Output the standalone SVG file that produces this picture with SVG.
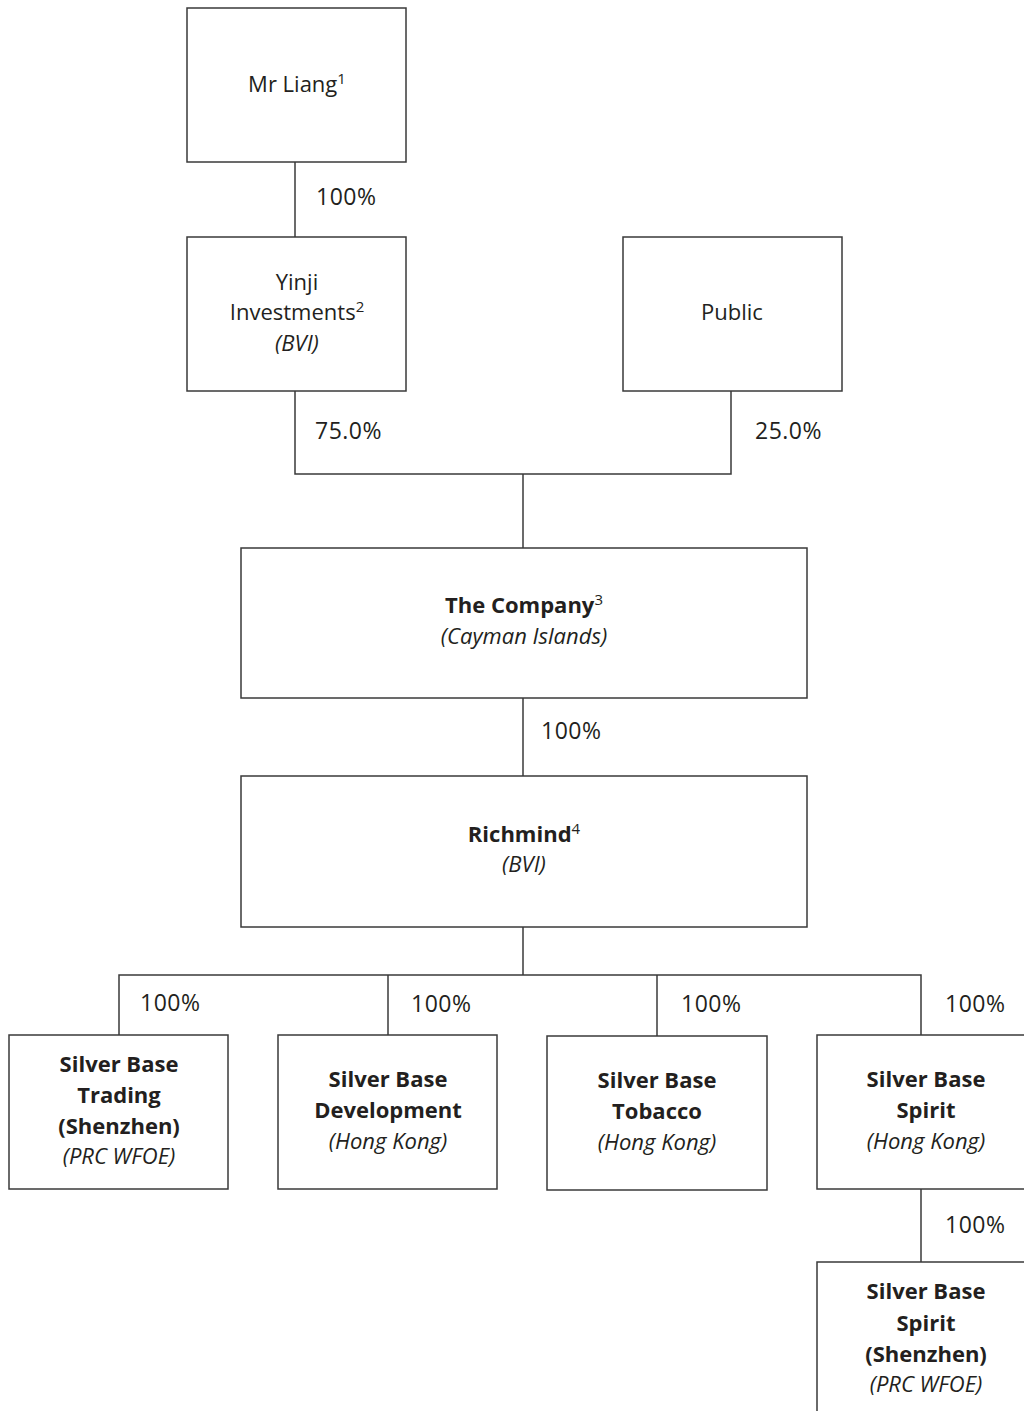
<svg xmlns="http://www.w3.org/2000/svg" width="1024" height="1411" viewBox="0 0 1024 1411">
<style>
.box{fill:#fff;stroke:#3a3a3a;stroke-width:1.5}
.ln{fill:none;stroke:#3a3a3a;stroke-width:1.5}
text{font-family:"Open Sans","Noto Sans","Liberation Sans",sans-serif;font-size:22px;fill:#231f20;text-anchor:middle}
.b{font-weight:bold}
.i{font-style:italic}
.pct{text-anchor:start;font-size:23px;letter-spacing:0.5px}
.sup{font-size:15px}
</style>
<rect width="1024" height="1411" fill="#fff"/>
<g id="connectors">
<path class="ln" d="M295 162V237"/>
<path class="ln" d="M295 391V474H731V391"/>
<path class="ln" d="M523 474V548"/>
<path class="ln" d="M523 698V776"/>
<path class="ln" d="M523 927V975"/>
<path class="ln" d="M119 1035V975H921V1035"/>
<path class="ln" d="M388 975V1035"/>
<path class="ln" d="M657 975V1036"/>
<path class="ln" d="M921 1189V1262"/>
<text class="pct" x="316" y="205">100%</text>
<text class="pct" x="315" y="439">75.0%</text>
<text class="pct" x="755" y="439">25.0%</text>
<text class="pct" x="541" y="739">100%</text>
<text class="pct" x="140" y="1011">100%</text>
<text class="pct" x="411" y="1012">100%</text>
<text class="pct" x="681" y="1012">100%</text>
<text class="pct" x="945" y="1012">100%</text>
<text class="pct" x="945" y="1233">100%</text>
</g>
<g id="mr-liang">
<rect class="box" x="187" y="8" width="219" height="154"/>
<text x="297" y="92">Mr Liang<tspan class="sup" dy="-8">1</tspan></text>
</g>
<g id="yinji">
<rect class="box" x="187" y="237" width="219" height="154"/>
<text x="297" y="290">Yinji</text>
<text x="297" y="320">Investments<tspan class="sup" dy="-8">2</tspan></text>
<text class="i" x="297" y="351">(BVI)</text>
</g>
<g id="public">
<rect class="box" x="623" y="237" width="219" height="154"/>
<text x="732" y="320">Public</text>
</g>
<g id="company">
<rect class="box" x="241" y="548" width="566" height="150"/>
<text class="b" x="524" y="613">The Company<tspan class="sup" font-weight="normal" dy="-8">3</tspan></text>
<text class="i" x="524" y="644">(Cayman Islands)</text>
</g>
<g id="richmind">
<rect class="box" x="241" y="776" width="566" height="151"/>
<text class="b" x="524" y="842">Richmind<tspan class="sup" font-weight="normal" dy="-8">4</tspan></text>
<text class="i" x="524" y="872">(BVI)</text>
</g>
<g id="sb-trading">
<rect class="box" x="9" y="1035" width="219" height="154"/>
<text class="b" x="119" y="1072">Silver Base</text>
<text class="b" x="119" y="1103">Trading</text>
<text class="b" x="119" y="1134">(Shenzhen)</text>
<text class="i" x="119" y="1164">(PRC WFOE)</text>
</g>
<g id="sb-development">
<rect class="box" x="278" y="1035" width="219" height="154"/>
<text class="b" x="388" y="1087">Silver Base</text>
<text class="b" x="388" y="1118">Development</text>
<text class="i" x="388" y="1149">(Hong Kong)</text>
</g>
<g id="sb-tobacco">
<rect class="box" x="547" y="1036" width="220" height="154"/>
<text class="b" x="657" y="1088">Silver Base</text>
<text class="b" x="657" y="1119">Tobacco</text>
<text class="i" x="657" y="1150">(Hong Kong)</text>
</g>
<g id="sb-spirit">
<rect class="box" x="817" y="1035" width="219" height="154"/>
<text class="b" x="926" y="1087">Silver Base</text>
<text class="b" x="926" y="1118">Spirit</text>
<text class="i" x="926" y="1149">(Hong Kong)</text>
</g>
<g id="sb-spirit-shenzhen">
<rect class="box" x="817" y="1262" width="219" height="160"/>
<text class="b" x="926" y="1299">Silver Base</text>
<text class="b" x="926" y="1331">Spirit</text>
<text class="b" x="926" y="1362">(Shenzhen)</text>
<text class="i" x="926" y="1392">(PRC WFOE)</text>
</g>
</svg>
